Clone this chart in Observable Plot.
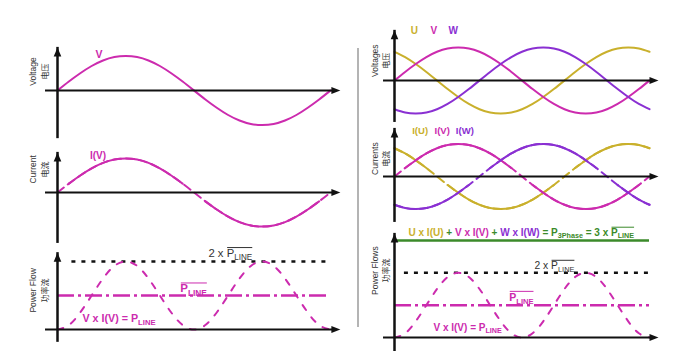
<!DOCTYPE html>
<html>
<head>
<meta charset="utf-8">
<script src="https://cdn.jsdelivr.net/npm/d3@7"></script>
<script src="https://cdn.jsdelivr.net/npm/@observablehq/plot@0.6"></script>
<style>
  html, body { margin: 0; padding: 0; background: #fff; }
  #chart { position: relative; width: 692px; height: 363px; overflow: hidden; }
  #chart svg { position: absolute; left: 0; top: 0; }
  #sep { position: absolute; left: 357px; top: 48px; width: 1.5px; height: 279px; background: #b4b4b4; }
</style>
</head>
<body>
<div id="chart"><div id="sep"></div></div>
<script>
// ---------------- data ----------------
const angles = [0, 15, 30, 45, 60, 75, 90, 105, 120, 135, 150, 165, 180, 195, 210, 225, 240, 255, 270, 285, 300, 315, 330, 345, 360];
const voltageU = [0.87, 0.71, 0.5, 0.26, 0, -0.26, -0.5, -0.71, -0.87, -0.97, -1, -0.97, -0.87, -0.71, -0.5, -0.26, 0, 0.26, 0.5, 0.71, 0.87, 0.97, 1, 0.97, 0.87];
const voltageV = [0, 0.26, 0.5, 0.71, 0.87, 0.97, 1, 0.97, 0.87, 0.71, 0.5, 0.26, 0, -0.26, -0.5, -0.71, -0.87, -0.97, -1, -0.97, -0.87, -0.71, -0.5, -0.26, 0];
const voltageW = [-0.87, -0.97, -1, -0.97, -0.87, -0.71, -0.5, -0.26, 0, 0.26, 0.5, 0.71, 0.87, 0.97, 1, 0.97, 0.87, 0.71, 0.5, 0.26, 0, -0.26, -0.5, -0.71, -0.87];
const currentU = [0.87, 0.71, 0.5, 0.26, 0, -0.26, -0.5, -0.71, -0.87, -0.97, -1, -0.97, -0.87, -0.71, -0.5, -0.26, 0, 0.26, 0.5, 0.71, 0.87, 0.97, 1, 0.97, 0.87];
const currentV = [0, 0.26, 0.5, 0.71, 0.87, 0.97, 1, 0.97, 0.87, 0.71, 0.5, 0.26, 0, -0.26, -0.5, -0.71, -0.87, -0.97, -1, -0.97, -0.87, -0.71, -0.5, -0.26, 0];
const currentW = [-0.87, -0.97, -1, -0.97, -0.87, -0.71, -0.5, -0.26, 0, 0.26, 0.5, 0.71, 0.87, 0.97, 1, 0.97, 0.87, 0.71, 0.5, 0.26, 0, -0.26, -0.5, -0.71, -0.87];
const powerV = [0, 0.13, 0.5, 1, 1.5, 1.87, 2, 1.87, 1.5, 1, 0.5, 0.13, 0, 0.13, 0.5, 1, 1.5, 1.87, 2, 1.87, 1.5, 1, 0.5, 0.13, 0];
const averagePower = 1;     // P_LINE
const peakPower = 2;        // 2 x P_LINE
const threePhasePower = 3;  // 3 x P_LINE

// ---------------- labels ----------------
const leftVoltageLabel = "V";
const leftCurrentLabel = "I(V)";
const leftPowerLabels = ["2 x ~P_{LINE}~", "~P_{LINE}~", "V x I(V) = P_{LINE}"];
const rightVoltageLabels = ["U", "V", "W"];
const rightCurrentLabels = ["I(U)", "I(V)", "I(W)"];
const rightPowerLabels = ["<u>U x I(U)<g> + <v>V x I(V)<g> + <w>W x I(W)<g> = P_{3Phase} = 3 x ~P_{LINE}~", "2 x ~P_{LINE}~", "~P_{LINE}~", "V x I(V) = P_{LINE}"];
const leftTitles = [["Voltage", "电压"], ["Current", "电流"], ["Power Flow", "功率流"]];
const rightTitles = [["Voltages", "电压"], ["Currents", "电流"], ["Power Flows", "功率流"]];

// ---------------- styles ----------------
const W = 692, H = 363;
const MAG = "#cc2bae", PUR = "#8a30d2", YEL = "#c9b02c", GRN = "#3b8a2a", INK = "#111";
const COLORS = {u: YEL, v: MAG, w: PUR, g: GRN};
const FONT = '"Liberation Sans", Arial, Helvetica, sans-serif';
const CJK = '"Noto Sans CJK SC", sans-serif';

const rows = vals => angles.map((a, i) => ({a, v: vals[i]}));
const arrowUp = {draw(ctx) { ctx.moveTo(0, 0); ctx.lineTo(-3.8, 9); ctx.lineTo(3.8, 9); ctx.closePath(); }};
const arrowRight = {draw(ctx) { ctx.moveTo(0, 0); ctx.lineTo(-9, -3.6); ctx.lineTo(-9, 3.6); ctx.closePath(); }};

function axes(xs, xe, yb, yt) {
  return [
    Plot.ruleX([{x: 0, y1: yb, y2: yt}], {x: "x", y1: "y1", y2: "y2", stroke: INK, strokeWidth: 2.5, insetTop: 4}),
    Plot.ruleY([{y: 0, x1: xs, x2: xe}], {y: "y", x1: "x1", x2: "x2", stroke: INK, strokeWidth: 2.2, insetRight: 4}),
    Plot.dot([{x: 0, y: yt}], {x: "x", y: "y", symbol: arrowUp, fill: INK}),
    Plot.dot([{x: xe, y: 0}], {x: "x", y: "y", symbol: arrowRight, fill: INK})
  ];
}
function titles(lines, xa, xb, y) {
  return [
    Plot.text([{x: xa, y, t: lines[0]}], {x: "x", y: "y", text: "t", rotate: -90, fontSize: 8.5, fill: "#333"}),
    Plot.text([{x: xb, y, t: lines[1]}], {x: "x", y: "y", text: "t", rotate: -90, fontSize: 8, fill: "#333", fontFamily: CJK})
  ];
}
function label(t, x, y, opts) {
  return Plot.text([{x, y, t}], {x: "x", y: "y", text: "t", fontWeight: "bold", ...opts});
}
function solidLine(vals, color) {
  return Plot.line(rows(vals), {x: "a", y: "v", stroke: color, strokeWidth: 2, curve: "natural"});
}
function currentLines(vals, color) {
  return [
    Plot.line(rows(vals), {x: "a", y: "v", stroke: color, strokeWidth: 2, strokeDasharray: "8,5", curve: "natural"}),
    Plot.line(rows(vals), {x: "a", y: d => Math.abs(d.v) >= 0.25 ? d.v : NaN, stroke: color, strokeWidth: 2, curve: "natural"})
  ];
}
function powerMarks(vals, dottedFrom) {
  return [
    Plot.ruleY([{y: peakPower, x1: dottedFrom, x2: 360}], {y: "y", x1: "x1", x2: "x2", stroke: INK, strokeWidth: 2.5, strokeDasharray: "4,6"}),
    Plot.ruleY([{y: averagePower, x1: 0, x2: 360}], {y: "y", x1: "x1", x2: "x2", stroke: MAG, strokeWidth: 2.5, strokeDasharray: "17,4,3,4"}),
    Plot.line(rows(vals), {x: "a", y: "v", stroke: MAG, strokeWidth: 2, strokeDasharray: "6,9", curve: "natural"})
  ];
}
function panel([x0, x1], top, bottom, domain, marks) {
  return Plot.plot({
    width: W, height: H,
    marginLeft: x0, marginRight: W - x1, marginTop: top, marginBottom: H - bottom,
    x: {domain: [0, 360], axis: null},
    y: {domain, axis: null},
    style: {background: "transparent", fontFamily: FONT, overflow: "visible"},
    marks
  });
}

const LX = [57, 330], RX = [394, 649];
const plots = [
  // left: single phase
  panel(LX, 55.5, 124.5, [-1, 1], [
    solidLine(voltageV, MAG),
    ...axes(-15.8, 373, -1.28, 1.25),
    label(leftVoltageLabel, 54.7, 1.03, {fill: MAG, fontSize: 10.5}),
    ...titles(leftTitles[0], -31.6, -15.8, 0.55)
  ]),
  panel(LX, 158, 226, [-1, 1], [
    ...currentLines(currentV, MAG),
    ...axes(-15.8, 373, -1.38, 1.18),
    label(leftCurrentLabel, 53.4, 1.09, {fill: MAG, fontSize: 10}),
    ...titles(leftTitles[1], -31.6, -15.8, 0.68)
  ]),
  panel(LX, 261, 329, [0, 2], [
    ...powerMarks(powerV, 19),
    ...axes(-15.8, 373, -0.26, 2.26),
    label(leftPowerLabels[0], 199, 2.24, {fill: "#333", fontWeight: "normal", fontSize: 11.3, textAnchor: "start"}),
    label(leftPowerLabels[1], 162, 1.2, {fill: MAG, fontSize: 11.5, textAnchor: "start"}),
    label(leftPowerLabels[2], 33, 0.32, {fill: MAG, fontSize: 10.7, textAnchor: "start"}),
    ...titles(leftTitles[2], -31.6, -15.8, 1.15)
  ]),
  // right: three phase
  panel(RX, 47, 113, [-1, 1], [
    solidLine(voltageU, YEL), solidLine(voltageV, MAG), solidLine(voltageW, PUR),
    ...axes(-15.5, 372.7, -1.15, 1.52),
    label(rightVoltageLabels[0], 28.2, 1.5, {fill: YEL, fontSize: 10}),
    label(rightVoltageLabels[1], 55.5, 1.5, {fill: MAG, fontSize: 10}),
    label(rightVoltageLabels[2], 82.9, 1.5, {fill: PUR, fontSize: 10}),
    ...titles(rightTitles[0], -26.5, -12, 0.6)
  ]),
  panel(RX, 143.5, 208.5, [-1, 1], [
    ...currentLines(currentU, YEL), ...currentLines(currentV, MAG), ...currentLines(currentW, PUR),
    ...axes(-15.5, 372.7, -1.29, 1.48),
    label(rightCurrentLabels[0], 36.2, 1.415, {fill: YEL, fontSize: 9.5}),
    label(rightCurrentLabels[1], 67.3, 1.415, {fill: MAG, fontSize: 9.5}),
    label(rightCurrentLabels[2], 99.3, 1.415, {fill: PUR, fontSize: 9.5}),
    ...titles(rightTitles[1], -26.5, -12, 0.55)
  ]),
  panel(RX, 240, 337, [0, 3], [
    Plot.ruleY([{y: threePhasePower, x1: 0, x2: 360}], {y: "y", x1: "x1", x2: "x2", stroke: GRN, strokeWidth: 2.5}),
    ...powerMarks(powerV, 14),
    ...axes(-15.5, 372.7, -0.31, 3.22),
    label(rightPowerLabels[0], 19.8, 3.25, {fill: GRN, fontSize: 10, textAnchor: "start"}),
    label(rightPowerLabels[1], 197.6, 2.23, {fill: "#333", fontWeight: "normal", fontSize: 10.3, textAnchor: "start"}),
    label(rightPowerLabels[2], 162, 1.24, {fill: MAG, fontSize: 10.5, textAnchor: "start"}),
    label(rightPowerLabels[3], 55, 0.31, {fill: MAG, fontSize: 10, textAnchor: "start"}),
    ...titles(rightTitles[2], -26.5, -11, 2.07)
  ])
];

const chart = document.getElementById("chart");
plots.forEach(p => chart.appendChild(p));

// ---------------- rich text: subscripts, overlines, coloured runs ----------------
const NS = "http://www.w3.org/2000/svg";
function enrich(svg) {
  svg.querySelectorAll("text").forEach(el => {
    const s = el.textContent;
    if (!/[~_<]/.test(s)) return;
    const fs = parseFloat(getComputedStyle(el).fontSize);
    const runs = [];
    let cur = {t: "", sub: false, over: 0, fill: null};
    let overId = 0, inOver = false;
    const push = () => { if (cur.t) runs.push(cur); cur = {...cur, t: ""}; };
    for (let i = 0; i < s.length; i++) {
      const c = s[i];
      if (c === "~") { push(); inOver = !inOver; if (inOver) overId++; cur.over = inOver ? overId : 0; }
      else if (c === "_" && s[i + 1] === "{") { push(); cur.sub = true; i++; }
      else if (c === "}" && cur.sub) { push(); cur.sub = false; }
      else if (c === "<") { const j = s.indexOf(">", i); push(); cur.fill = COLORS[s.slice(i + 1, j)]; i = j; }
      else cur.t += c;
    }
    push();
    el.textContent = "";
    const shift = fs * 0.28;
    let shifted = false, idx = 0;
    const groups = {};
    for (const r of runs) {
      const ts = document.createElementNS(NS, "tspan");
      ts.textContent = r.t;
      if (r.fill) ts.setAttribute("fill", r.fill);
      if (r.sub) {
        ts.setAttribute("font-size", fs * 0.72);
        if (!shifted) { ts.setAttribute("dy", shift); shifted = true; }
      } else if (shifted) { ts.setAttribute("dy", -shift); shifted = false; }
      el.appendChild(ts);
      if (r.over) (groups[r.over] ||= []).push({start: idx, end: idx + r.t.length - 1, ts});
      idx += r.t.length;
    }
    for (const key in groups) {
      const g = groups[key];
      const a = g[0].start, b = g[g.length - 1].end;
      let minY = Infinity;
      for (let k = a; k <= b; k++) minY = Math.min(minY, el.getExtentOfChar(k).y);
      const first = el.getExtentOfChar(a), last = el.getExtentOfChar(b);
      const grp = document.createElementNS(NS, "g");
      const tr = el.getAttribute("transform");
      if (tr) grp.setAttribute("transform", tr);
      const line = document.createElementNS(NS, "line");
      line.setAttribute("x1", first.x + 0.5);
      line.setAttribute("x2", last.x + last.width);
      line.setAttribute("y1", minY + 0.6);
      line.setAttribute("y2", minY + 0.6);
      line.setAttribute("stroke", getComputedStyle(g[0].ts).fill);
      line.setAttribute("stroke-width", 1);
      el.parentNode.appendChild(grp);
      grp.appendChild(line);
    }
  });
}
plots.forEach(enrich);
</script>
</body>
</html>
